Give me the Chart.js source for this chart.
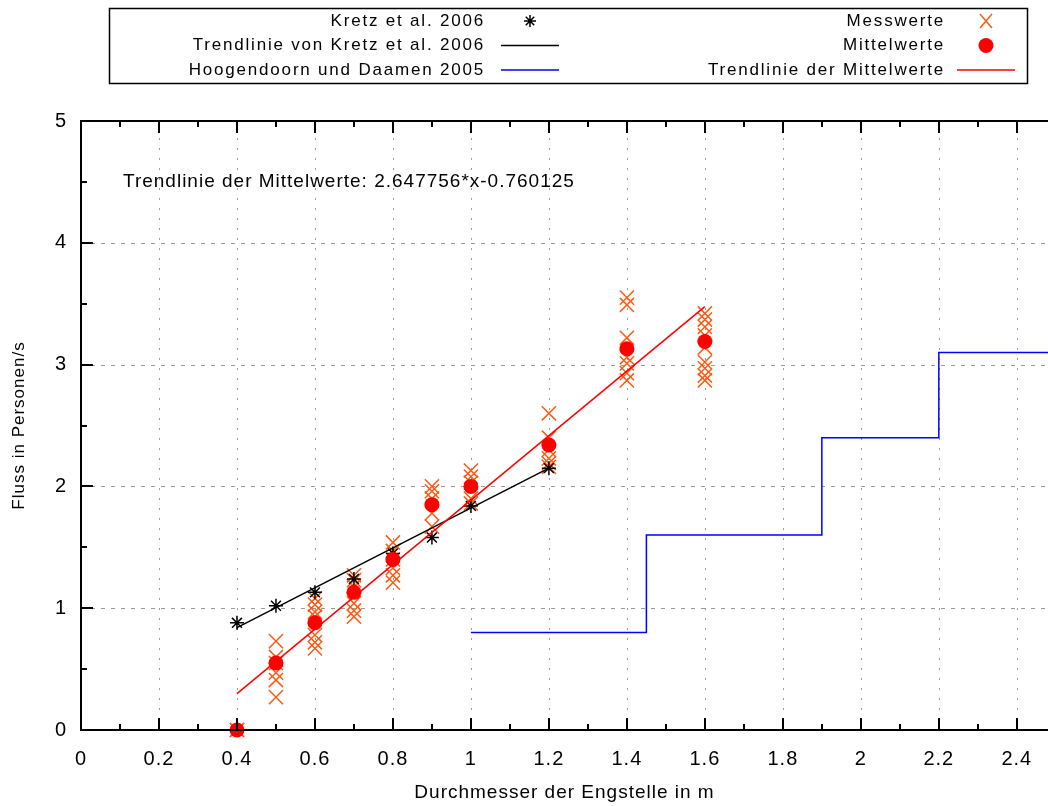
<!DOCTYPE html>
<html>
<head>
<meta charset="utf-8">
<script src="https://cdn.jsdelivr.net/npm/chart.js@4/dist/chart.umd.min.js"></script>
<style>
  body { margin: 0; background: #fff; }
  canvas { display: block; }
</style>
</head>
<body>
<canvas id="flow" width="1048" height="806"></canvas>
<script>
// Kretz et al. 2006 (Engstellenbreite in m, Fluss in Personen/s)
const kretzWidth = [0.4, 0.5, 0.6, 0.7, 0.8, 0.9, 1.0, 1.2];
const kretzFlow = [0.88, 1.02, 1.13, 1.24, 1.45, 1.58, 1.84, 2.15];
const kretzTrendWidth = [0.4, 1.2];
const kretzTrendFlow = [0.84, 2.15];

// Hoogendoorn und Daamen 2005, Stufenfunktion
const hdWidth = [1.0, 1.45, 1.9, 2.2, 2.6];
const hdFlow = [0.8, 1.6, 2.4, 3.1, 3.1];

// eigene Messungen
const measWidth = [0.4, 0.5, 0.6, 0.7, 0.8, 0.9, 1.0, 1.2, 1.4, 1.6];
const measFlow = [
  [0, 0],
  [0.73, 0.6, 0.55, 0.47, 0.41, 0.27],
  [1.08, 1.03, 0.97, 0.93, 0.78, 0.72, 0.67],
  [1.27, 1.23, 1.18, 1.04, 0.98, 0.93],
  [1.54, 1.47, 1.4, 1.33, 1.27, 1.21],
  [2.0, 1.96, 1.9, 1.78, 1.67],
  [2.13, 2.08, 2.03, 1.9, 1.86],
  [2.6, 2.4, 2.3, 2.23, 2.19, 2.16],
  [3.55, 3.49, 3.22, 3.06, 3.01, 2.93, 2.87],
  [3.42, 3.37, 3.31, 3.24, 3.14, 3.02, 2.97, 2.91, 2.87]
];
const meanFlow = [0, 0.55, 0.88, 1.13, 1.4, 1.85, 2.0, 2.34, 3.13, 3.19];

// Trendlinie der Mittelwerte
const trendSlope = 2.647756;
const trendOffset = -0.760125;
const trendRange = [0.4, 1.6];

// Achsen
const xMin = 0, xMax = 2.48, xStep = 0.2;
const yMin = 0, yMax = 5, yStep = 1;

const FONT = "'Liberation Sans', Arial, sans-serif";
const CROSS = '#ff5a14';

const pts = (xs, ys) => xs.map((x, i) => ({ x: x, y: ys[i] }));
const measPoints = [];
measWidth.forEach((w, i) => measFlow[i].forEach(f => measPoints.push({ x: w, y: f })));
const trendPoints = trendRange.map(x => ({ x: x, y: trendSlope * x + trendOffset }));

const legendLeft = [
  { label: 'Kretz et al. 2006', type: 'star', color: '#000' },
  { label: 'Trendlinie von Kretz et al. 2006', type: 'line', color: '#000' },
  { label: 'Hoogendoorn und Daamen 2005', type: 'line', color: '#0000ff' }
];
const legendRight = [
  { label: 'Messwerte', type: 'cross', color: CROSS },
  { label: 'Mittelwerte', type: 'dot', color: '#ff0000' },
  { label: 'Trendlinie der Mittelwerte', type: 'line', color: '#ff0000' }
];

function drawSample(ctx, item, cx, cy) {
  ctx.strokeStyle = item.color;
  ctx.fillStyle = item.color;
  ctx.lineWidth = 1.5;
  ctx.beginPath();
  if (item.type === 'line') {
    ctx.moveTo(cx - 29, cy);
    ctx.lineTo(cx + 29, cy);
    ctx.stroke();
  } else if (item.type === 'dot') {
    ctx.arc(cx, cy, 7.5, 0, Math.PI * 2);
    ctx.fill();
  } else if (item.type === 'cross') {
    ctx.moveTo(cx - 6, cy - 7); ctx.lineTo(cx + 6, cy + 7);
    ctx.moveTo(cx - 6, cy + 7); ctx.lineTo(cx + 6, cy - 7);
    ctx.stroke();
  } else {
    const r = 6, d = r * Math.SQRT1_2;
    ctx.moveTo(cx - r, cy); ctx.lineTo(cx + r, cy);
    ctx.moveTo(cx, cy - r); ctx.lineTo(cx, cy + r);
    ctx.moveTo(cx - d, cy - d); ctx.lineTo(cx + d, cy + d);
    ctx.moveTo(cx - d, cy + d); ctx.lineTo(cx + d, cy - d);
    ctx.stroke();
  }
}

const frame = {
  id: 'frame',
  beforeDraw(chart) {
    chart.ctx.letterSpacing = '1px';
  },
  beforeDatasetsDraw(chart) {
    const { ctx, chartArea: a, scales: { x, y } } = chart;
    ctx.save();
    ctx.strokeStyle = '#9a9a9a';
    ctx.lineWidth = 1;
    // gepunktetes Gitter
    ctx.setLineDash([2, 8]);
    for (let i = 1; i * xStep < xMax; i++) {
      const px = Math.round(x.getPixelForValue(i * xStep)) + 0.5;
      ctx.beginPath(); ctx.moveTo(px, a.bottom); ctx.lineTo(px, a.top); ctx.stroke();
    }
    ctx.setLineDash([4, 6]);
    for (let i = 1; i * yStep < yMax; i++) {
      const py = Math.round(y.getPixelForValue(i * yStep)) + 0.5;
      ctx.beginPath(); ctx.moveTo(a.left, py); ctx.lineTo(a.right, py); ctx.stroke();
    }
    ctx.restore();
  },
  afterDatasetsDraw(chart) {
    const { ctx, chartArea: a, scales: { x, y } } = chart;
    ctx.save();
    ctx.strokeStyle = '#000';
    ctx.lineWidth = 2;
    ctx.beginPath();
    ctx.moveTo(a.right, a.top); ctx.lineTo(a.left, a.top);
    ctx.lineTo(a.left, a.bottom); ctx.lineTo(a.right, a.bottom);
    ctx.stroke();
    // Teilstriche innen, unten und oben
    for (let i = 1; i * xStep / 2 < xMax; i++) {
      const px = Math.round(x.getPixelForValue(i * xStep / 2));
      const len = i % 2 === 0 ? 12 : 6;
      ctx.beginPath();
      ctx.moveTo(px, a.bottom); ctx.lineTo(px, a.bottom - len);
      ctx.moveTo(px, a.top); ctx.lineTo(px, a.top + len);
      ctx.stroke();
    }
    for (let i = 1; i * yStep / 2 < yMax; i++) {
      const py = Math.round(y.getPixelForValue(i * yStep / 2));
      const len = i % 2 === 0 ? 12 : 6;
      ctx.beginPath(); ctx.moveTo(a.left, py); ctx.lineTo(a.left + len, py); ctx.stroke();
    }

    // Beschriftung der Trendlinie
    ctx.fillStyle = '#000';
    ctx.font = '19px ' + FONT;
    ctx.textAlign = 'left';
    ctx.textBaseline = 'middle';
    ctx.fillText('Trendlinie der Mittelwerte: ' + trendSlope + '*x' + trendOffset,
      x.getPixelForValue(0.1) + 3, y.getPixelForValue(4.5));

    // Legende
    ctx.lineWidth = 1.5;
    ctx.strokeStyle = '#000';
    ctx.strokeRect(109.5, 8.5, 918, 75);
    ctx.font = '17px ' + FONT;
    ctx.letterSpacing = '1.8px';
    ctx.textAlign = 'right';
    const rows = [21, 45.5, 70];
    legendLeft.forEach((item, i) => {
      ctx.fillStyle = '#000';
      ctx.fillText(item.label, 485, rows[i]);
      drawSample(ctx, item, 530, rows[i]);
    });
    legendRight.forEach((item, i) => {
      ctx.fillStyle = '#000';
      ctx.fillText(item.label, 945, rows[i]);
      drawSample(ctx, item, 986, rows[i]);
    });
    ctx.restore();
  }
};

new Chart(document.getElementById('flow'), {
  type: 'scatter',
  data: {
    datasets: [
      {
        label: 'Trendlinie der Mittelwerte',
        data: trendPoints,
        showLine: true,
        borderColor: '#ff0000',
        borderWidth: 1.5,
        pointRadius: 0,
        order: 0
      },
      {
        label: 'Mittelwerte',
        data: pts(measWidth, meanFlow),
        pointStyle: 'circle',
        pointRadius: 7.5,
        backgroundColor: '#ff0000',
        borderColor: '#ff0000',
        borderWidth: 0,
        clip: false,
        order: 1
      },
      {
        label: 'Kretz et al. 2006',
        data: pts(kretzWidth, kretzFlow),
        pointStyle: 'star',
        pointRadius: 7,
        borderColor: '#000',
        borderWidth: 1.5,
        clip: false,
        order: 2
      },
      {
        label: 'Trendlinie von Kretz et al. 2006',
        data: pts(kretzTrendWidth, kretzTrendFlow),
        showLine: true,
        borderColor: '#000',
        borderWidth: 1.5,
        pointRadius: 0,
        order: 3
      },
      {
        label: 'Messwerte',
        data: measPoints,
        pointStyle: 'crossRot',
        pointRadius: 10,
        borderColor: CROSS,
        borderWidth: 1.5,
        clip: false,
        order: 4
      },
      {
        label: 'Hoogendoorn und Daamen 2005',
        data: pts(hdWidth, hdFlow),
        showLine: true,
        stepped: 'before',
        borderColor: '#0000ff',
        borderWidth: 1.5,
        pointRadius: 0,
        order: 5
      }
    ]
  },
  options: {
    responsive: false,
    animation: false,
    events: [],
    layout: { autoPadding: false, padding: { top: 121, left: 0, right: 0, bottom: 0 } },
    plugins: { legend: { display: false }, tooltip: { enabled: false } },
    scales: {
      x: {
        type: 'linear',
        min: xMin,
        max: xMax,
        grid: { display: false, drawTicks: false },
        border: { display: false },
        ticks: {
          stepSize: xStep,
          includeBounds: false,
          padding: 17,
          color: '#000',
          font: { family: FONT, size: 20 },
          callback: v => String(+v.toFixed(1))
        },
        title: {
          display: true,
          text: 'Durchmesser der Engstelle in m',
          color: '#000',
          font: { family: FONT, size: 19 },
          padding: { top: 2, bottom: 2 }
        },
        afterFit: s => {
          s.height = 76;
          s.paddingLeft = 0;
          s.paddingRight = 0;
        }
      },
      y: {
        type: 'linear',
        min: yMin,
        max: yMax,
        grid: { display: false, drawTicks: false },
        border: { display: false },
        ticks: {
          stepSize: yStep,
          padding: 14,
          color: '#000',
          font: { family: FONT, size: 20 }
        },
        title: {
          display: true,
          text: 'Fluss in Personen/s',
          color: '#000',
          font: { family: FONT, size: 17 },
          padding: { top: 9, bottom: 9 }
        },
        afterFit: s => {
          s.width = 81;
          s.paddingTop = 0;
          s.paddingBottom = 0;
        }
      }
    }
  },
  plugins: [frame]
});
</script>
</body>
</html>
